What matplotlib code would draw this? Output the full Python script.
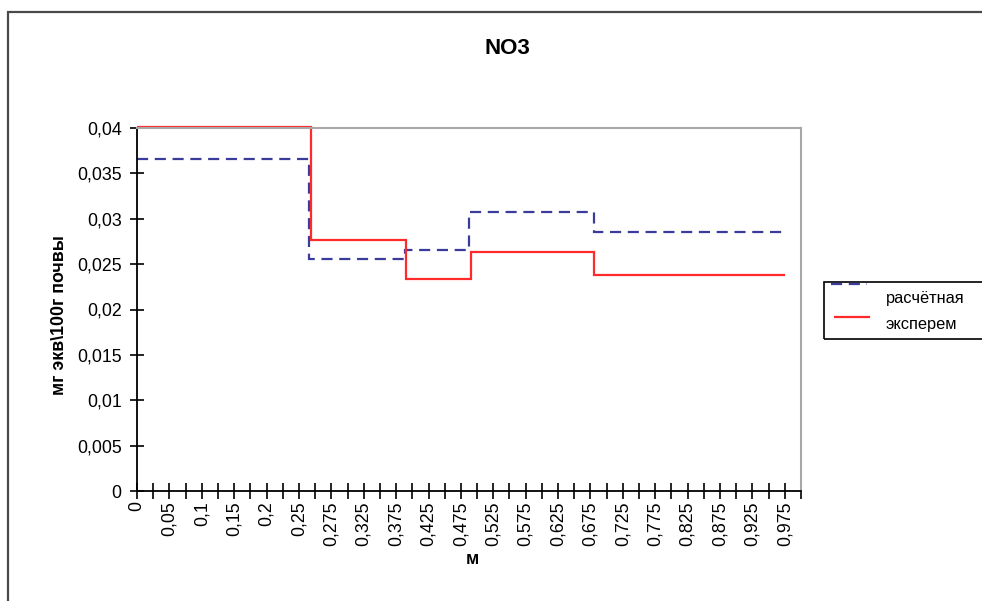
import numpy as np
import matplotlib
matplotlib.use("Agg")
import matplotlib.pyplot as plt
from matplotlib.patches import Rectangle
from matplotlib.lines import Line2D

plt.rcParams['font.family'] = ['Liberation Sans', 'DejaVu Sans']

# ---- data ----
title = "NO3"
x_label = "м"
y_label = "мг экв\\100г почвы"
series_names = ["расчётная", "эксперем"]

calc_edges = [0.0, 0.2575, 0.388, 0.4875, 0.681, 0.971]
calc_values = [0.0366, 0.0256, 0.0266, 0.0307, 0.0285]

exp_edges = [0.0, 0.259, 0.3895, 0.491, 0.681, 0.976]
exp_values = [0.0401, 0.0277, 0.0234, 0.0263, 0.0238]

x_tick_values = [0, 0.05, 0.1, 0.15, 0.2, 0.25, 0.275, 0.325, 0.375, 0.425,
                 0.475, 0.525, 0.575, 0.625, 0.675, 0.725, 0.775, 0.825,
                 0.875, 0.925, 0.975]
x_minor_values = [0.025, 0.075, 0.125, 0.175, 0.225, 0.2625, 0.3, 0.35, 0.4,
                  0.45, 0.5, 0.55, 0.6, 0.65, 0.7, 0.75, 0.8, 0.85, 0.9,
                  0.95, 1.0]
y_ticks = [0, 0.005, 0.01, 0.015, 0.02, 0.025, 0.03, 0.035, 0.04]


def fmt(v):
    s = ("%.4f" % v).rstrip('0').rstrip('.')
    return s.replace('.', ',')


# category-like axis: piecewise linear depth -> position
def fwd(d):
    d = np.asarray(d, dtype=float)
    return np.where(d <= 0.25, d / 0.025,
                    np.where(d <= 0.275, 10 + (d - 0.25) / 0.0125, d / 0.025 + 1))


def inv(i):
    i = np.asarray(i, dtype=float)
    return np.where(i <= 10, i * 0.025,
                    np.where(i <= 12, 0.25 + (i - 10) * 0.0125, (i - 1) * 0.025))


W, H = 982, 601
fig = plt.figure(figsize=(W / 100, H / 100), dpi=100)
fig.patch.set_facecolor('white')

# outer chart border
fig.patches.append(Rectangle((8 / W, -0.05), 1.2, 1 - 12.5 / H + 0.05,
                             transform=fig.transFigure, fill=False,
                             edgecolor='#4a4a4a', linewidth=1.6, clip_on=False))

L, R, T, B = 137, 801, 128, 491
ax = fig.add_axes([L / W, 1 - B / H, (R - L) / W, (B - T) / H])
ax.set_xscale('function', functions=(fwd, inv))
ax.set_xlim(0, 1.0)
ax.set_ylim(0, 0.04)

ax.stairs(calc_values, calc_edges, baseline=None, color='#3b3b9b',
          linewidth=1.6, linestyle=(0, (5, 3)), label=series_names[0])
ax.stairs(exp_values, exp_edges, baseline=None, color='#ff2a2a',
          linewidth=1.6, label=series_names[1], clip_on=False)

ax.set_yticks(y_ticks)
ax.set_yticklabels([fmt(v) for v in y_ticks], fontsize=12.8)
ax.set_xticks(x_tick_values)
ax.set_xticklabels([fmt(v) for v in x_tick_values], rotation=90, fontsize=12.8)
ax.set_xticks(x_minor_values, minor=True)

ax.tick_params(axis='y', direction='inout', length=10, width=1.2, pad=6)
ax.tick_params(axis='x', which='both', direction='inout', length=11, width=1.2, pad=2)

for s in ['left', 'bottom']:
    ax.spines[s].set_color('black')
    ax.spines[s].set_linewidth(1.3)
for s in ['top', 'right']:
    ax.spines[s].set_color('#a8a8a8')
    ax.spines[s].set_linewidth(1.5)

fig.text(507 / W, 1 - 48 / H, title, ha='center', va='center',
         fontsize=16, fontweight='bold')
fig.text(60 / W, 1 - 315 / H, y_label, ha='center', va='center',
         rotation=90, fontsize=12.8, fontweight='bold')
fig.text(472 / W, 1 - 560 / H, x_label, ha='center', va='center',
         fontsize=13, fontweight='bold')

# legend (manual, as in reference)
fig.patches.append(Rectangle((824 / W, 1 - 339 / H), (990 - 824) / W, (339 - 282) / H,
                             transform=fig.transFigure, fill=False,
                             edgecolor='black', linewidth=1.2, clip_on=False))
fig.lines.append(Line2D([831 / W, 867 / W], [1 - 284 / H, 1 - 284 / H],
                        transform=fig.transFigure, color='#3b3b9b',
                        linewidth=1.6, linestyle=(0, (5, 3))))
fig.lines.append(Line2D([835 / W, 869 / W], [1 - 317 / H, 1 - 317 / H],
                        transform=fig.transFigure, color='#ff2a2a', linewidth=1.6))
fig.text(886 / W, 1 - 298 / H, series_names[0], ha='left', va='center', fontsize=11.8)
fig.text(886 / W, 1 - 325 / H, series_names[1], ha='left', va='center', fontsize=11.8)

fig.savefig('out.png', dpi=100)
